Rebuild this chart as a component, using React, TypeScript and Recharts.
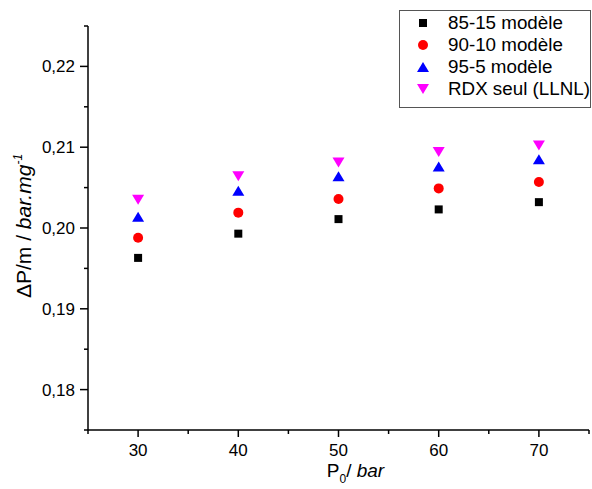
import React from "react"
import { ScatterChart, Scatter, XAxis, YAxis, Legend, Label } from "recharts"

// pression initiale (bar)
const pressures = [30, 40, 50, 60, 70]
// ΔP/m (bar.mg-1)
const model8515 = [0.1963, 0.1993, 0.2011, 0.2023, 0.2032]
const model9010 = [0.1988, 0.2019, 0.2036, 0.2049, 0.2057]
const model955 = [0.2014, 0.2046, 0.2064, 0.2076, 0.2085]
const rdxLlnl = [0.2035, 0.2064, 0.2081, 0.2094, 0.2102]

const xTicks = [25, 30, 35, 40, 45, 50, 55, 60, 65, 70, 75]
const yTicks = [0.175, 0.18, 0.185, 0.19, 0.195, 0.2, 0.205, 0.21, 0.215, 0.22, 0.225]

const FONT = "'Liberation Sans', Arial, sans-serif"

type Kind = "square" | "circle" | "up" | "down"

const series: { name: string; values: number[]; color: string; kind: Kind }[] = [
  { name: "85-15 modèle", values: model8515, color: "#000000", kind: "square" },
  { name: "90-10 modèle", values: model9010, color: "#ff0000", kind: "circle" },
  { name: "95-5 modèle", values: model955, color: "#0000ff", kind: "up" },
  { name: "RDX seul (LLNL)", values: rdxLlnl, color: "#ff00ff", kind: "down" },
]

function marker(kind: Kind, color: string, cx: number, cy: number) {
  if (kind === "square") return <rect x={cx - 4} y={cy - 4} width={8} height={8} fill={color} />
  if (kind === "circle") return <circle cx={cx} cy={cy} r={5} fill={color} />
  if (kind === "up")
    return <polygon points={`${cx - 6},${cy + 5} ${cx + 6},${cy + 5} ${cx},${cy - 5}`} fill={color} />
  return <polygon points={`${cx - 6},${cy - 5} ${cx + 6},${cy - 5} ${cx},${cy + 5}`} fill={color} />
}

function XTick(props: any) {
  const { x, y, payload } = props
  const major = payload.value % 10 === 0
  return (
    <g>
      <line x1={x} x2={x} y1={y} y2={y + (major ? 7 : 4)} stroke="#000" strokeWidth={1.5} />
      {major && (
        <text x={x} y={y + 26} textAnchor="middle" fontSize={17} fontFamily={FONT} fill="#000">
          {payload.value}
        </text>
      )}
    </g>
  )
}

function YTick(props: any) {
  const { x, y, payload } = props
  const major = Math.round(payload.value * 1000) % 10 === 0
  return (
    <g>
      <line x1={x} x2={x - (major ? 8 : 4)} y1={y} y2={y} stroke="#000" strokeWidth={1.5} />
      {major && (
        <text x={x - 13} y={y + 6} textAnchor="end" fontSize={17} fontFamily={FONT} fill="#000">
          {payload.value.toFixed(2).replace(".", ",")}
        </text>
      )}
    </g>
  )
}

function LegendBox() {
  return (
    <svg width={192} height={98} style={{ display: "block" }}>
      <rect x={0.5} y={0.5} width={191} height={97} fill="#fff" stroke="#555" />
      {series.map((s, i) => (
        <g key={s.name}>
          {marker(s.kind, s.color, 24, 13 + i * 22)}
          <text x={49} y={19 + i * 22} fontSize={18.8} fontFamily={FONT} fill="#000">
            {s.name}
          </text>
        </g>
      ))}
    </svg>
  )
}

export default function App() {
  return (
    <div style={{ position: "absolute", left: 0, top: 0, background: "#fff" }}>
      <ScatterChart width={592} height={489} margin={{ top: 26, right: 3, left: 0, bottom: 0 }}>
        <XAxis
          type="number"
          dataKey="x"
          domain={[25, 75]}
          ticks={xTicks}
          interval={0}
          height={59}
          tickSize={0}
          tickMargin={0}
          tick={<XTick />}
          axisLine={{ stroke: "#000", strokeWidth: 1.5 }}
          tickLine={false}
        >
          <Label
            content={(p: any) => {
              const vb = p.viewBox
              return (
                <text x={vb.x + vb.width / 2 + 17} y={vb.y + 47} fontSize={19} fontFamily={FONT} fill="#000" textAnchor="middle">
                  P<tspan fontSize={12} dy={6}>0</tspan>
                  <tspan dy={-6}>/ </tspan>
                  <tspan fontStyle="italic">bar</tspan>
                </text>
              )
            }}
          />
        </XAxis>
        <YAxis
          type="number"
          dataKey="y"
          domain={[0.175, 0.225]}
          ticks={yTicks}
          interval={0}
          width={88}
          tickSize={0}
          tickMargin={0}
          tick={<YTick />}
          axisLine={{ stroke: "#000", strokeWidth: 1.5 }}
          tickLine={false}
          allowDataOverflow
        >
          <Label
            content={(p: any) => {
              const vb = p.viewBox
              const cx = 31
              const cy = vb.y + vb.height / 2 - 2
              return (
                <text
                  x={cx}
                  y={cy}
                  transform={`rotate(-90, ${cx}, ${cy})`}
                  fontSize={21}
                  fontFamily={FONT}
                  fill="#000"
                  textAnchor="middle"
                >
                  ΔP/m / <tspan fontStyle="italic">bar.mg</tspan>
                  <tspan fontStyle="italic" fontSize={12} dy={-9}>-1</tspan>
                </text>
              )
            }}
          />
        </YAxis>
        <Legend
          layout="vertical"
          align="center"
          verticalAlign="middle"
          wrapperStyle={{ top: 10, left: 399, width: 192, height: 98 }}
          content={() => <LegendBox />}
        />
        {series.map((s) => (
          <Scatter
            key={s.name}
            name={s.name}
            data={pressures.map((p, i) => ({ x: p, y: s.values[i] }))}
            fill={s.color}
            isAnimationActive={false}
            shape={(props: any) => marker(s.kind, s.color, props.cx, props.cy)}
          />
        ))}
      </ScatterChart>
    </div>
  )
}
